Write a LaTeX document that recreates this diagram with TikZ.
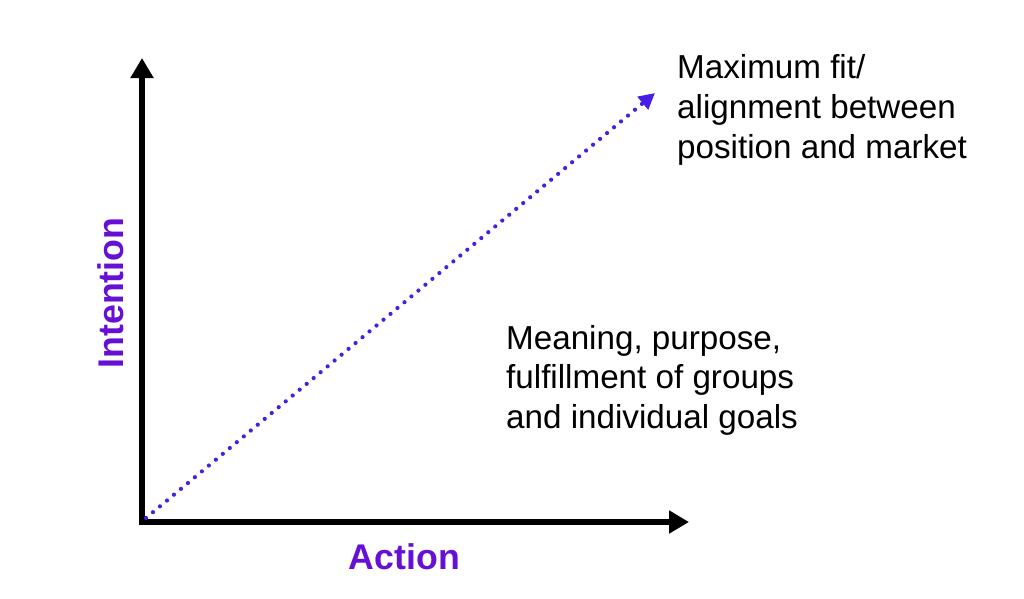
\documentclass[tikz,border=0pt]{standalone}
\usepackage{fontspec}
\setmainfont{Liberation Sans}
\usetikzlibrary{arrows.meta}
\definecolor{labelpurple}{RGB}{102,16,214}
\definecolor{dotblue}{RGB}{72,30,228}
\tikzset{
  axis/.style={line width=6pt, line join=miter, {Triangle[length=20pt,width=22pt]}-{Triangle[length=20pt,width=22pt]}},
  diag/.style={dotblue, line width=4.2pt, line cap=round, dash pattern=on 0pt off 9.1pt,
    -{Triangle[length=16pt,width=16pt]}},
  bodytext/.style={inner sep=0pt, anchor=base west, font=\fontsize{33.2}{40}\selectfont},
  axislabel/.style={inner sep=0pt, labelpurple, font=\fontsize{35.7}{40}\selectfont\bfseries},
}
\begin{document}
\begin{tikzpicture}[x=1pt,y=-1pt]
\useasboundingbox (0,0) rectangle (1024,598);
\coordinate (corner) at (142,522);
\coordinate (top) at (142,58);
\coordinate (right) at (689,522);
\coordinate (dstart) at (146,518);
\coordinate (dend) at (655,93);
\draw[axis] (top) -- (corner) -- (right);
\draw[diag] (dstart) -- (dend);
\node[bodytext] (t1a) at (677,78) {Maximum fit/};
\node[bodytext] (t1b) at (677,118) {alignment between};
\node[bodytext] (t1c) at (677,158) {position and market};
\node[bodytext] (t2a) at (506,349) {Meaning, purpose,};
\node[bodytext] (t2b) at (506,388.5) {fulfillment of groups};
\node[bodytext] (t2c) at (506,428) {and individual goals};
\node[axislabel, anchor=base] (action) at (404.5,569) {Action};
\node[axislabel, anchor=base, rotate=90] (intention) at (123,293) {Intention};
\end{tikzpicture}
\end{document}
